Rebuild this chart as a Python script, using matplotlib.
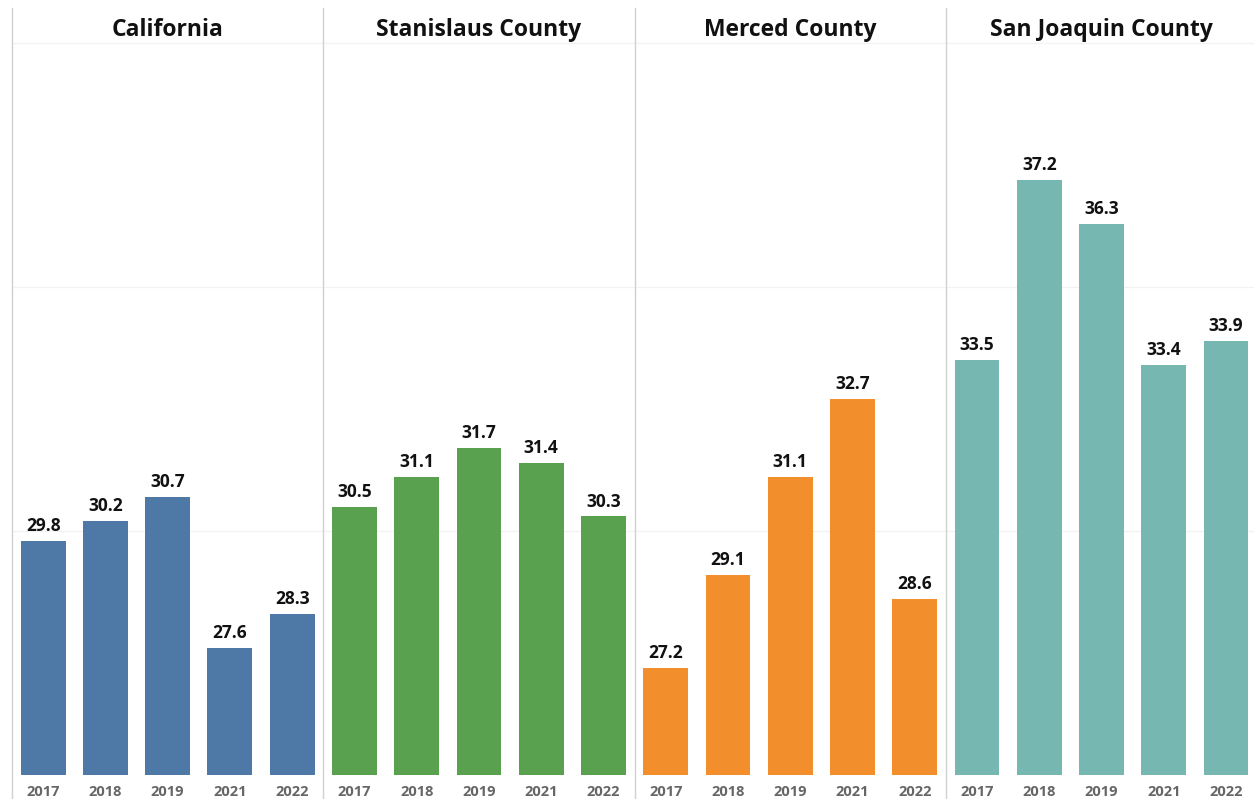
import matplotlib.pyplot as plt
from matplotlib.lines import Line2D

plt.rcParams['font.family'] = ['Open Sans', 'DejaVu Sans']

# Rates by year for each region
years = ['2017', '2018', '2019', '2021', '2022']
regions = ['California', 'Stanislaus County', 'Merced County', 'San Joaquin County']
california = [29.8, 30.2, 30.7, 27.6, 28.3]
stanislaus = [30.5, 31.1, 31.7, 31.4, 30.3]
merced = [27.2, 29.1, 31.1, 32.7, 28.6]
san_joaquin = [33.5, 37.2, 36.3, 33.4, 33.9]
colors = ['#4e79a7', '#59a14f', '#f28e2b', '#76b7b2']

series = [california, stanislaus, merced, san_joaquin]

W, H = 1254, 799
fig = plt.figure(figsize=(W / 100, H / 100), dpi=100)

panel_left = 12
panel_w = 311.3
y_top, y_bottom = 8, 775
y_min = 25
px_per_unit = 48.8
y_max = y_min + (y_bottom - y_top) / px_per_unit

for i, (name, vals, col) in enumerate(zip(regions, series, colors)):
    x0 = panel_left + i * panel_w
    ax = fig.add_axes([x0 / W, 1 - y_bottom / H, panel_w / W, (y_bottom - y_top) / H])
    ax.set_xlim(-0.5, len(years) - 0.5)
    ax.set_ylim(y_min, y_max)
    for y in [30, 35, 40]:
        ax.axhline(y, color='#f2f2f2', lw=0.9, zorder=0)
    ax.bar(range(len(years)), vals, width=0.72, color=col, zorder=2)
    for j, v in enumerate(vals):
        ax.text(j, v + 0.12, f'{v:.1f}', ha='center', va='bottom',
                fontsize=12.5, fontweight='bold', color='#111111')
    ax.text(2, 40.27, name, ha='center', va='center', fontsize=16.5,
            fontweight='bold', color='#111111')
    ax.set_xticks(range(len(years)))
    ax.set_xticklabels(years, fontsize=10.5, fontweight='bold', color='#666666')
    ax.tick_params(axis='x', length=0, pad=7)
    ax.set_yticks([])
    for s in ax.spines.values():
        s.set_visible(False)
    ax.patch.set_alpha(0)

# panel divider lines running down to the bottom edge
for i in range(4):
    x = (panel_left + i * panel_w) / W
    fig.add_artist(Line2D([x, x], [0, 1 - y_top / H], color='#d0d0d0', lw=1.0,
                          transform=fig.transFigure))

fig.savefig('out.png', dpi=100)
